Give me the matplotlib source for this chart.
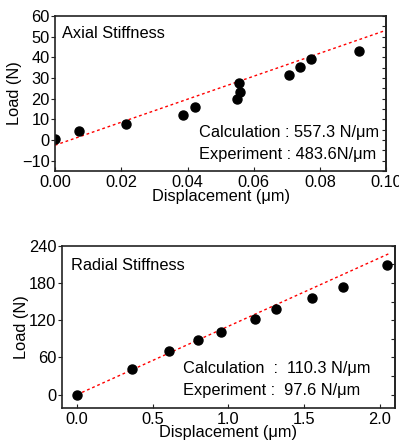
import matplotlib
matplotlib.use("Agg")
import matplotlib.pyplot as plt
import numpy as np
from matplotlib.ticker import MultipleLocator

plt.rcParams['font.family'] = ['Liberation Sans', 'DejaVu Sans']

# Axial data
axial_x = [0.0, 0.0073, 0.0215, 0.0387, 0.0422, 0.0550, 0.0556, 0.0559, 0.0706, 0.0740, 0.0774, 0.0919]
axial_y = [0.5, 4.3, 7.9, 11.9, 15.8, 19.7, 27.7, 23.4, 31.5, 35.3, 39.2, 43.1]
axial_fit_x = [0.0, 0.1]
axial_fit_y = [-2.5, 53.2]

# Radial data
radial_x = [0.0, 0.363, 0.605, 0.801, 0.948, 1.173, 1.316, 1.549, 1.754, 2.044]
radial_y = [0.0, 41.9, 70.3, 88.0, 101.5, 121.9, 138.0, 155.7, 172.9, 208.3]
radial_fit_x = [0.0, 2.06]
radial_fit_y = [0.0, 227.2]

fig = plt.figure(figsize=(3.99, 4.45), dpi=100)
ax1 = fig.add_axes([0.138, 0.6157, 0.830, 0.348])
ax2 = fig.add_axes([0.155, 0.0838, 0.835, 0.364])

fs = 11.8
spine_c = '#222222'

def style(ax):
    for s in ax.spines.values():
        s.set_color(spine_c)
        s.set_linewidth(1.2)
    ax.tick_params(axis='y', which='both', direction='out', left=True, right=False, labelsize=fs, length=3, color=spine_c, pad=1)
    ax.tick_params(axis='x', which='both', direction='in', bottom=True, top=False, labelsize=fs, length=3, color=spine_c, pad=3)
    sec = ax.secondary_yaxis('right')
    sec.tick_params(direction='in', length=3, labelright=False, color=spine_c)
    sec.spines['right'].set_linewidth(1.2)
    sec.spines['right'].set_color(spine_c)
    return sec

# Top
ax1.plot(axial_fit_x, axial_fit_y, color='red', lw=1.0, dashes=(2, 2))
ax1.plot(axial_x, axial_y, 'o', color='black', ms=6.5)
ax1.set_xlim(0, 0.1)
ax1.set_ylim(-15, 60)
ax1.xaxis.set_major_locator(MultipleLocator(0.02))
ax1.yaxis.set_major_locator(MultipleLocator(10))
ax1.xaxis.set_major_formatter(matplotlib.ticker.FormatStrFormatter('%.2f'))
sec1 = style(ax1)
sec1.yaxis.set_major_locator(MultipleLocator(5))
ax1.set_xlabel('Displacement (μm)', fontsize=fs, labelpad=-1)
ax1.set_ylabel('Load (N)', fontsize=fs, labelpad=0)
ax1.text(0.021, 0.89, 'Axial Stiffness', transform=ax1.transAxes, fontsize=fs, va='center', ha='left')
ax1.text(0.435, 0.247, 'Calculation : 557.3 N/μm', transform=ax1.transAxes, fontsize=fs, va='center', ha='left')
ax1.text(0.435, 0.108, 'Experiment : 483.6N/μm', transform=ax1.transAxes, fontsize=fs, va='center', ha='left')

# Bottom
ax2.plot(radial_fit_x, radial_fit_y, color='red', lw=1.0, dashes=(2, 2))
ax2.plot(radial_x, radial_y, 'o', color='black', ms=6.5)
ax2.set_xlim(-0.1, 2.1)
ax2.set_ylim(-21, 240)
ax2.xaxis.set_major_locator(MultipleLocator(0.5))
ax2.yaxis.set_major_locator(MultipleLocator(60))
ax2.xaxis.set_major_formatter(matplotlib.ticker.FormatStrFormatter('%.1f'))
sec2 = style(ax2)
sec2.yaxis.set_major_locator(MultipleLocator(30))
ax2.set_xlabel('Displacement (μm)', fontsize=fs, labelpad=-1)
ax2.set_ylabel('Load (N)', fontsize=fs, labelpad=0)
ax2.text(0.028, 0.881, 'Radial Stiffness', transform=ax2.transAxes, fontsize=fs, va='center', ha='left')
ax2.text(0.363, 0.243, 'Calculation  :  110.3 N/μm', transform=ax2.transAxes, fontsize=fs, va='center', ha='left')
ax2.text(0.363, 0.105, 'Experiment :  97.6 N/μm', transform=ax2.transAxes, fontsize=fs, va='center', ha='left')

fig.savefig('out.png', dpi=100)
